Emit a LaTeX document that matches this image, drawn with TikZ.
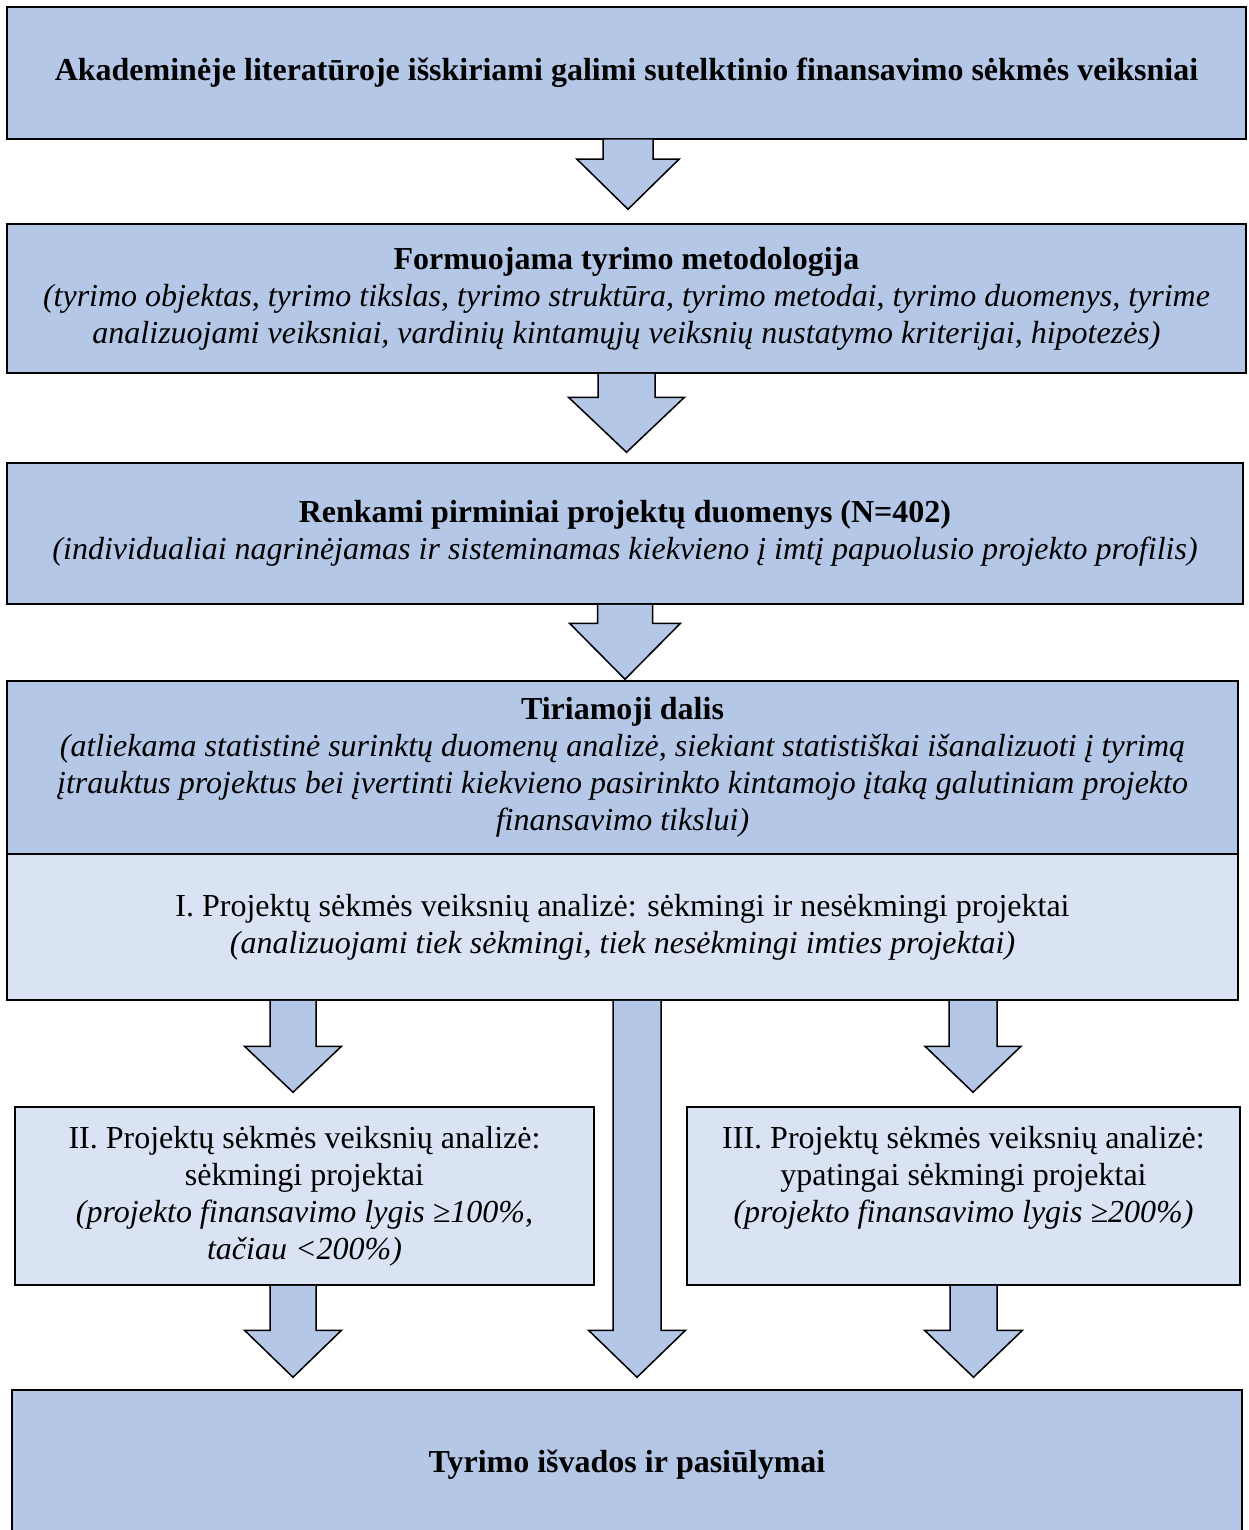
\documentclass[tikz,border=0pt]{standalone}
\usepackage{fontspec}
\setmainfont{Liberation Serif}
\usetikzlibrary{calc}
\definecolor{boxdark}{HTML}{B4C7E7}
\definecolor{boxlight}{HTML}{DAE3F3}
\tikzset{
  box/.style={draw, line width=1.5pt, fill=boxdark, inner sep=0pt, align=center,
    font=\fontsize{32}{37}\selectfont},
  lightbox/.style={box, fill=boxlight},
  arrowbody/.style={draw, line width=1.5pt, fill=boxdark, line join=miter},
}
% #1 centre x, #2 upper node, #3 lower node, #4 shaft half width,
% #5 head half width, #6 head length, #7 gap above lower node
\newcommand{\flowarrow}[7]{%
  \path[arrowbody] let \p1=(#2.south), \p2=(#3.north) in
    (#1pt-#4pt,\y1) -- (#1pt-#4pt,\y2+#7pt+#6pt) -- (#1pt-#5pt,\y2+#7pt+#6pt)
    -- (#1pt,\y2+#7pt) -- (#1pt+#5pt,\y2+#7pt+#6pt) -- (#1pt+#4pt,\y2+#7pt+#6pt)
    -- (#1pt+#4pt,\y1);}
\begin{document}
\begin{tikzpicture}[x=1pt,y=-1pt]
\useasboundingbox (0,0) rectangle (1248,1530);

\node[box, minimum width=1239, minimum height=132] (lit) at (626.5,73)
  {\textbf{Akademinėje literatūroje išskiriami galimi sutelktinio finansavimo sėkmės veiksniai}};
\node[box, minimum width=1239, minimum height=149] (metod) at (626.5,298.5)
  {\textbf{Formuojama tyrimo metodologija}\\
   \textit{(tyrimo objektas, tyrimo tikslas, tyrimo struktūra, tyrimo metodai, tyrimo duomenys, tyrime}\\
   \textit{analizuojami veiksniai, vardinių kintamųjų veiksnių nustatymo kriterijai, hipotezės)}};
\node[box, minimum width=1236, minimum height=141] (duom) at (625,533.5)
  {\textbf{Renkami pirminiai projektų duomenys (N=402)}\\
   \textit{(individualiai nagrinėjamas ir sisteminamas kiekvieno į imtį papuolusio projekto profilis)}};
\node[box, minimum width=1231, minimum height=173] (dalis) at (622.5,767.5)
  {\textbf{Tiriamoji dalis}\\
   \textit{(atliekama statistinė surinktų duomenų analizė, siekiant statistiškai išanalizuoti į tyrimą}\\
   \textit{įtrauktus projektus bei įvertinti kiekvieno pasirinkto kintamojo įtaką galutiniam projekto}\\
   \textit{finansavimo tikslui)}};
\node[lightbox, minimum width=1231, minimum height=146] (anal1) at (622.5,927)
  {I. Projektų sėkmės veiksnių analizė: sėkmingi ir nesėkmingi projektai\\
   \textit{(analizuojami tiek sėkmingi, tiek nesėkmingi imties projektai)}};
\node[lightbox, minimum width=579, minimum height=178] (anal2) at (304.5,1196)
  {II. Projektų sėkmės veiksnių analizė:\\
   sėkmingi projektai\\
   \textit{(projekto finansavimo lygis ≥100\%,}\\
   \textit{tačiau <200\%)}};
\node[lightbox, minimum width=553, minimum height=178] (anal3) at (963.5,1196) {};
\node[align=center, font=\fontsize{32}{37}\selectfont] (anal3txt) at (963.5,1177.5)
  {III. Projektų sėkmės veiksnių analizė:\\
   ypatingai sėkmingi projektai\\
   \textit{(projekto finansavimo lygis ≥200\%)}};
\node[box, minimum width=1230, minimum height=150] (isvad) at (627,1465)
  {\textbf{Tyrimo išvados ir pasiūlymai}};

\flowarrow{628}{lit}{metod}{25}{51}{50}{14}
\flowarrow{626.5}{metod}{duom}{28.5}{58}{55}{10}
\flowarrow{625}{duom}{dalis}{27.5}{55.5}{56}{1}
\flowarrow{293}{anal1}{anal2}{23}{48.5}{46}{14}
\flowarrow{637}{anal1}{isvad}{24}{48.5}{47}{12}
\flowarrow{973}{anal1}{anal3}{24}{48}{46}{14}
\flowarrow{293}{anal2}{isvad}{23}{48.5}{47}{12}
\flowarrow{973.5}{anal3}{isvad}{23.5}{49}{47}{12}

\end{tikzpicture}
\end{document}
